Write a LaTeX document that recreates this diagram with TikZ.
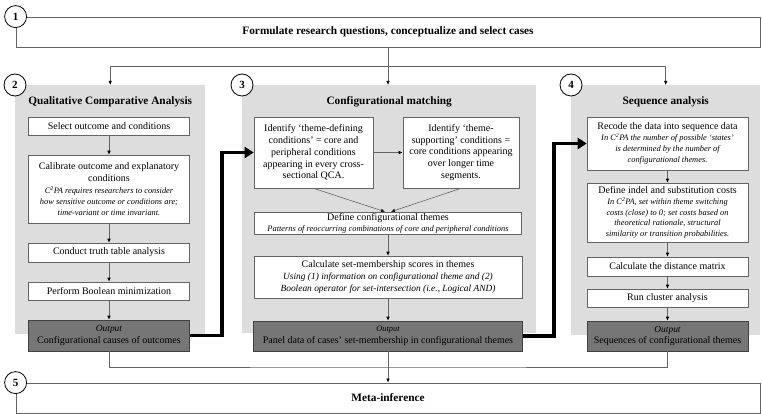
\documentclass[tikz,border=0pt]{standalone}
\usepackage{fontspec}
\setmainfont{Liberation Serif}
\usetikzlibrary{arrows.meta}
\definecolor{panelgray}{RGB}{221,221,221}
\definecolor{outgray}{RGB}{118,118,118}
\definecolor{linegray}{RGB}{100,100,100}
\newcommand{\smallit}[1]{{\fontsize{8.4}{10}\selectfont\itshape #1}}
\newcommand{\midit}[1]{{\fontsize{9.4}{11}\selectfont\itshape #1}}
\newcommand{\CCPA}{C\textsuperscript{2}PA}
\begin{document}
\begin{tikzpicture}[x=1pt,y=-1pt,
  panel/.style={fill=panelgray,anchor=north west,inner sep=0pt},
  ptitle/.style={font=\fontsize{11.3}{13}\selectfont\bfseries},
  stepbox/.style={draw=linegray,line width=0.6pt,fill=white,align=center,inner sep=1pt,font=\fontsize{10}{11.8}\selectfont},
  outbox/.style={stepbox,fill=outgray,draw=black!75},
  bigbox/.style={draw=linegray,line width=0.8pt,fill=white,minimum width=744pt,minimum height=30pt,font=\fontsize{11.3}{13}\selectfont\bfseries},
  num/.style={circle,draw,line width=0.8pt,fill=white,minimum size=22pt,inner sep=0pt,font=\fontsize{11}{12}\selectfont\bfseries},
  flow/.style={draw=linegray,line width=0.6pt,-{Latex[length=4pt,width=3.5pt,color=black]}},
  link/.style={draw=linegray,line width=0.6pt},
  bigflow/.style={line width=3.6pt,-{Triangle[length=9pt,width=11pt]}}
]
\useasboundingbox (0,0) rectangle (762,414);

% top and bottom steps
\node[bigbox] (form) at (388,32) {Formulate research questions, conceptualize and select cases};
\node[bigbox] (meta) at (388,398) {Meta-inference};

% panels
\node[panel,minimum width=190pt,minimum height=249pt] (qca) at (15,85) {};
\node[panel,minimum width=294pt,minimum height=248pt] (match) at (242,85) {};
\node[panel,minimum width=189pt,minimum height=250pt] (seq) at (571,85) {};
\node[ptitle] (qcat) at ([yshift=-17pt]qca.north) {Qualitative Comparative Analysis};
\node[ptitle] (matcht) at ([yshift=-17pt]match.north) {Configurational matching};
\node[ptitle] (seqt) at ([yshift=-17pt]seq.north) {Sequence analysis};

% QCA
\node[stepbox,minimum width=161pt,minimum height=18pt] (sel) at (109,126) {Select outcome and conditions};
\node[stepbox,minimum width=161pt,minimum height=68pt] (cal) at (109,189) {Calibrate outcome and explanatory\\conditions\\
  \smallit{\CCPA{} requires researchers to consider}\\[-1pt]\smallit{how sensitive outcome or conditions are;}\\[-1pt]\smallit{time-variant or time invariant.}};
\node[stepbox,minimum width=161pt,minimum height=19pt] (truth) at (109,252.5) {Conduct truth table analysis};
\node[stepbox,minimum width=161pt,minimum height=18pt] (bool) at (109,291) {Perform Boolean minimization};
\node[outbox,minimum width=161pt,minimum height=31pt] (out2) at (109,335.5) {\midit{Output}\\Configurational causes of outcomes};

% configurational matching
\node[stepbox,minimum width=119pt,minimum height=71pt] (themedef) at (313.5,152.5) {Identify `theme-defining\\conditions' = core and\\peripheral conditions\\appearing in every cross-\\sectional QCA.};
\node[stepbox,minimum width=116pt,minimum height=71pt] (themesup) at (461,152.5) {Identify `theme-\\supporting' conditions =\\core conditions appearing\\over longer time\\segments.};
\node[stepbox,minimum width=267pt,minimum height=22pt] (define) at (388,223) {Define configurational themes\\[-1pt]\smallit{Patterns of reoccurring combinations of core and peripheral conditions}};
\node[stepbox,minimum width=268pt,minimum height=42pt] (calc) at (388,277) {Calculate set-membership scores in themes\\
  \midit{Using (1) information on configurational theme and (2)}\\\midit{Boolean operator for set-intersection (i.e., Logical AND)}};
\node[outbox,minimum width=269pt,minimum height=30pt] (out3) at (388,336) {\smallit{Output}\\Panel data of cases' set-membership in configurational themes};

% sequence analysis
\node[stepbox,minimum width=161pt,minimum height=53pt] (recode) at (667.5,143.5) {Recode the data into sequence data\\[-1pt]
  \smallit{In \CCPA{} the number of possible `states'}\\[-1pt]\smallit{is determined by the number of}\\[-1pt]\smallit{configurational themes.}};
\node[stepbox,minimum width=161pt,minimum height=59pt] (indel) at (667.5,212.5) {Define indel and substitution costs\\[-1pt]
  \smallit{In \CCPA, set within theme switching}\\[-1pt]\smallit{costs (close) to 0; set costs based on}\\[-1pt]\smallit{theoretical rationale, structural}\\[-1pt]\smallit{similarity or transition probabilities.}};
\node[stepbox,minimum width=161pt,minimum height=19pt] (dist) at (667.5,266.5) {Calculate the distance matrix};
\node[stepbox,minimum width=161pt,minimum height=18pt] (cluster) at (667.5,298) {Run cluster analysis};
\node[outbox,minimum width=161pt,minimum height=30pt] (out4) at (667.5,336) {\midit{Output}\\Sequences of configurational themes};

% step numbers
\foreach \p/\n in {form/1,qca/2,match/3,seq/4,meta/5}
  \node[num] (c\n) at (\p.north west) {\n};

% connectors
\coordinate (split) at (388,66);
\coordinate (merge) at (388,367);
\draw[flow] (form.south) -- (form.south |- match.north);
\draw[flow] (split) -| (qca.north);
\draw[flow] (split) -| (seq.north);
\foreach \a/\b in {sel/cal,cal/truth,truth/bool,bool/out2,define/calc,calc/out3,recode/indel,indel/dist,dist/cluster,cluster/out4}
  \draw[flow] (\a) -- (\b);
\draw[flow] (themedef) -- (themesup);
\draw[flow] (themedef.south) -- ([xshift=-3pt]define.north);
\draw[flow] (themesup.south) -- ([xshift=3pt]define.north);
\draw[bigflow] (out2.east) -- ++(32,0) |- (themedef.west);
\draw[bigflow] (out3.east) -- ++(31,0) |- (recode.west);
\draw[link] (out2.south) |- (merge) -| (out4.south);
\draw[flow] (out3) -- (meta);
\end{tikzpicture}
\end{document}
